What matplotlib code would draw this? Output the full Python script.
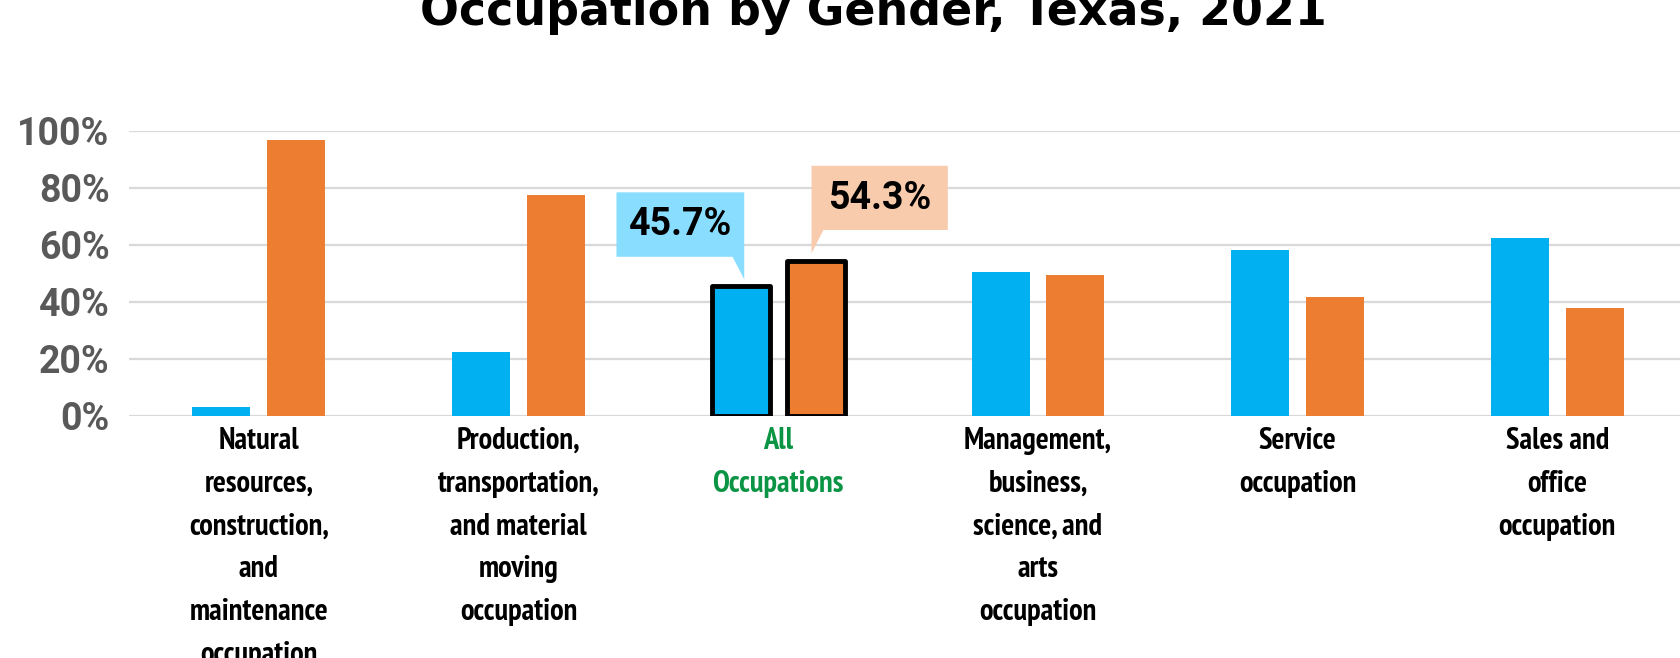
import os
import numpy as np
import matplotlib
matplotlib.use("Agg")
import matplotlib.pyplot as plt
from matplotlib import font_manager as fm
from matplotlib.patches import Polygon

categories = ["Natural\nresources,\nconstruction,\nand\nmaintenance\noccupation",
              "Production,\ntransportation,\nand material\nmoving\noccupation",
              "All\nOccupations",
              "Management,\nbusiness,\nscience, and\narts\noccupation",
              "Service\noccupation",
              "Sales and\noffice\noccupation"]
female = [3.3, 22.6, 45.7, 50.6, 58.2, 62.3]
male = [96.7, 77.4, 54.3, 49.4, 41.8, 37.7]
highlight = 2

# look for a narrow bold face for the category labels (Narrow first, then Condensed)
narrow_path = None
cond_path = None
for f in fm.fontManager.ttflist:
    base = os.path.basename(f.fname)
    if "Bold" not in base or "Italic" in base or "Oblique" in base:
        continue
    if "Narrow" in base and narrow_path is None:
        narrow_path = f.fname
    elif "Condensed" in base and cond_path is None:
        cond_path = f.fname
if narrow_path:
    cat_font = fm.FontProperties(fname=narrow_path, size=22)
    cat_ls = 1.67
elif cond_path:
    cat_font = fm.FontProperties(fname=cond_path, size=18)
    cat_ls = 1.75
else:
    cat_font = fm.FontProperties(family="Roboto", weight="bold", size=17)
    cat_ls = 1.8

fig = plt.figure(figsize=(16.8, 6.58), dpi=100)
ax = fig.add_axes([129 / 1680, 1 - 416 / 658, 6 * 259.7 / 1680, 285.3 / 658])

x = np.arange(len(categories))
w = 0.223
off = 0.144
bf = ax.bar(x - off, female, w, color="#00B0F0", zorder=3)
bm = ax.bar(x + off, male, w, color="#ED7D31", zorder=3)
for b in (bf[highlight], bm[highlight]):
    b.set_edgecolor("black")
    b.set_linewidth(3.5)
    b.set_joinstyle("round")

ax.set_xlim(-0.5, len(categories) - 0.5)
ax.set_ylim(0, 100)
ax.set_yticks(range(0, 101, 20))
ax.set_yticklabels([f"{v}%" for v in range(0, 101, 20)], color="#595959",
                   fontsize=27, fontweight="bold", family="Roboto")
ax.yaxis.grid(True, color="#D9D9D9", lw=1.6)
ax.set_axisbelow(True)
for s in ax.spines.values():
    s.set_visible(False)
ax.tick_params(axis="y", length=0, pad=14)
ax.tick_params(axis="x", length=0, pad=8)
ax.set_xticks(x)
ax.set_xticklabels(categories, fontproperties=cat_font, linespacing=cat_ls)
for i, t in enumerate(ax.get_xticklabels()):
    t.set_color("#0B9444" if i == highlight else "black")

# callouts for the highlighted group
vf = female[highlight]
xf = x[highlight] - off
poly = [(xf - 0.479, vf + 32.7), (xf + 0.013, vf + 32.7), (xf + 0.013, vf + 2.2),
        (xf - 0.032, vf + 10.1), (xf - 0.479, vf + 10.1)]
ax.add_patch(Polygon(poly, closed=True, facecolor="#89DEFF", edgecolor="none", zorder=4))
ax.text(xf - 0.233, vf + 21.4, f"{vf}%", ha="center", va="center", fontsize=27,
        fontweight="bold", family="Roboto", zorder=5)

vm = male[highlight]
xm = x[highlight] + off
poly = [(xm - 0.016, vm + 33.4), (xm + 0.509, vm + 33.4), (xm + 0.509, vm + 10.9),
        (xm + 0.030, vm + 10.9), (xm - 0.016, vm + 2.7)]
ax.add_patch(Polygon(poly, closed=True, facecolor="#F8CBAD", edgecolor="none", zorder=4))
ax.text(xm + 0.246, vm + 22.1, f"{vm}%", ha="center", va="center", fontsize=27,
        fontweight="bold", family="Roboto", zorder=5)

fig.text(873 / 1680, 1 - 25 / 658, "Occupation by Gender, Texas, 2021", ha="center",
         va="baseline", fontsize=33, fontweight="bold", family="DejaVu Sans")

fig.savefig("out.png", dpi=100, facecolor="white")
